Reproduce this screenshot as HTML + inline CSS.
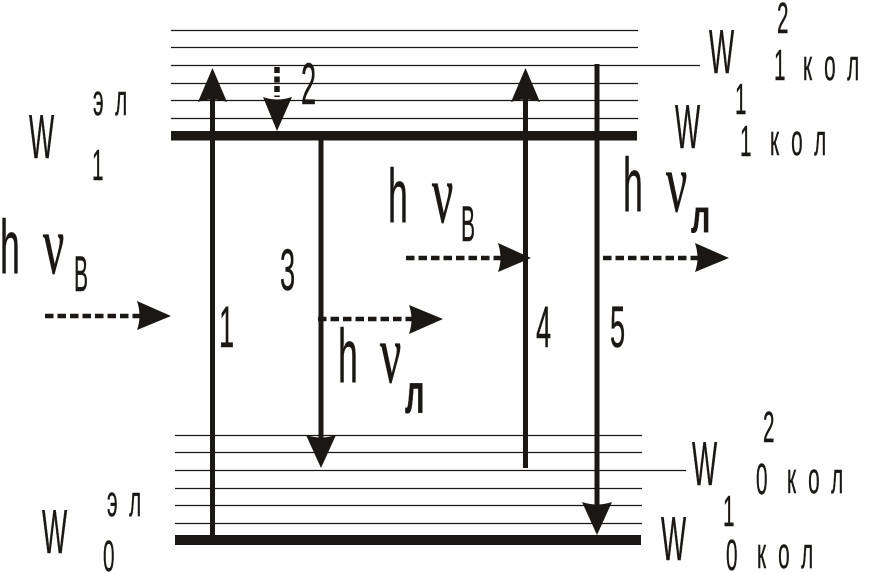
<!DOCTYPE html>
<html><head><meta charset="utf-8">
<style>
html,body{margin:0;padding:0;background:#fff;width:873px;height:573px;overflow:hidden}
svg{display:block}
text{font-family:"Liberation Sans",sans-serif;fill:#1a1714;stroke:#1a1714;stroke-width:.4px}
.w{font-size:62px}.d{font-size:44px}.n{font-size:58px}.s{font-size:44px}.h{font-size:76px}
.v{font-family:"Liberation Serif",serif;font-size:84px;stroke-width:.8px}
.b{font-size:50px}.lb{font-weight:bold}
</style></head><body>
<svg width="873" height="573" viewBox="0 0 873 573" xmlns="http://www.w3.org/2000/svg">
<g stroke="#1a1714" stroke-width="1.3" fill="none">
<path d="M171 30.5H638M171 47.5H638M171 65.5H700M171 83.5H638M171 100.5H638M171 118.5H638"/>
<path d="M175 435.5H642M175 452.5H642M175 470.5H686M175 488.5H642M175 505.5H642M175 523.5H642"/>
</g>
<rect x="171" y="131" width="466" height="9.5" fill="#1a1714"/>
<rect x="175" y="535" width="466" height="10" fill="#1a1714"/>
<g stroke="#1a1714" stroke-width="5" fill="none">
<path d="M212.5 536V95M321 140V445M525.5 468V95M597 64V510"/>
<path d="M277 67V97" stroke-width="5.5" stroke-dasharray="6 3.5"/>
<g stroke-width="4.5" stroke-dasharray="8.5 4">
<path d="M45 316H145M318 319H417M406 258H505M603 258H702"/>
</g>
</g>
<g fill="#1a1714">
<path d="M212.5 68L227 102Q212.5 97 198 102Z"/>
<path d="M277 131L263 97Q277 102 292 97Z"/>
<path d="M321 468L306 435Q321 440 336 435Z"/>
<path d="M525.5 68L540 102Q525.5 97 511 102Z"/>
<path d="M597 535L582 502Q597 507 612 502Z"/>
<path d="M171 316L137 301Q142 316 137 330Z"/>
<path d="M443 319L409 305Q414 319 409 334Z"/>
<path d="M531 258L498 243Q503 258 498 272Z"/>
<path d="M729 258L695 243Q700 258 695 272Z"/>
</g>

<!-- W labels -->
<text class="w" transform="translate(29,158) scale(.43,1)">W</text>
<text class="w" transform="translate(709,73) scale(.43,1)">W</text>
<text class="w" transform="translate(675,148) scale(.43,1)">W</text>
<text class="w" transform="translate(692,485) scale(.43,1)">W</text>
<text class="w" transform="translate(661,560) scale(.43,1)">W</text>
<text class="w" transform="translate(42,553) scale(.43,1)">W</text>

<!-- эл -->
<text class="s" x="0 47" transform="translate(93,115) scale(.47,1)">эл</text>
<text class="s" x="0 47" transform="translate(107,516) scale(.47,1)">эл</text>

<!-- indices -->
<text class="d" transform="translate(92,180) scale(.47,1)">1</text>
<text class="d" transform="translate(103,571) scale(.47,1)">0</text>
<text class="d" transform="translate(777,33) scale(.47,1)">2</text>
<text class="d" transform="translate(774,80) scale(.47,1)">1</text>
<text class="s" x="0 45 94" transform="translate(803,80) scale(.47,1)">кол</text>
<text class="d" transform="translate(735,114) scale(.47,1)">1</text>
<text class="d" transform="translate(740,156) scale(.47,1)">1</text>
<text class="s" x="0 45 94" transform="translate(770,155) scale(.47,1)">кол</text>
<text class="d" transform="translate(763,442) scale(.47,1)">2</text>
<text class="d" transform="translate(756,494) scale(.47,1)">0</text>
<text class="s" x="0 45 94" transform="translate(787,493) scale(.47,1)">кол</text>
<text class="d" transform="translate(723,526) scale(.47,1)">1</text>
<text class="d" transform="translate(726,570) scale(.47,1)">0</text>
<text class="s" x="0 45 94" transform="translate(757,568) scale(.47,1)">кол</text>

<!-- numbers -->
<text class="n" transform="translate(219,347) scale(.47,1)">1</text>
<text class="n" transform="translate(301,104) scale(.47,1)">2</text>
<text class="n" transform="translate(280,290) scale(.47,1)">3</text>
<text class="n" transform="translate(536,347) scale(.47,1)">4</text>
<text class="n" transform="translate(610,347) scale(.47,1)">5</text>

<!-- h nu labels -->
<text class="h" transform="translate(0,273) scale(.47,1)">h</text>
<text class="v" transform="translate(43,273) scale(.56,1)">ν</text>
<text class="b" transform="translate(74,291) scale(.42,1)">В</text>

<text class="h" transform="translate(388,222) scale(.47,1)">h</text>
<text class="v" transform="translate(432,222) scale(.56,1)">ν</text>
<text class="b" transform="translate(461,241) scale(.42,1)">В</text>

<text class="h" transform="translate(623,211) scale(.47,1)">h</text>
<text class="v" transform="translate(666,211) scale(.56,1)">ν</text>
<text class="lb" style="font-size:46px" transform="translate(691,232) scale(.66,1)">л</text>

<text class="h" transform="translate(338,382) scale(.47,1)">h</text>
<text class="v" transform="translate(380,382) scale(.56,1)">ν</text>
<text class="lb" style="font-size:56px" transform="translate(405,413) scale(.55,1)">л</text>
</svg>
</body></html>
